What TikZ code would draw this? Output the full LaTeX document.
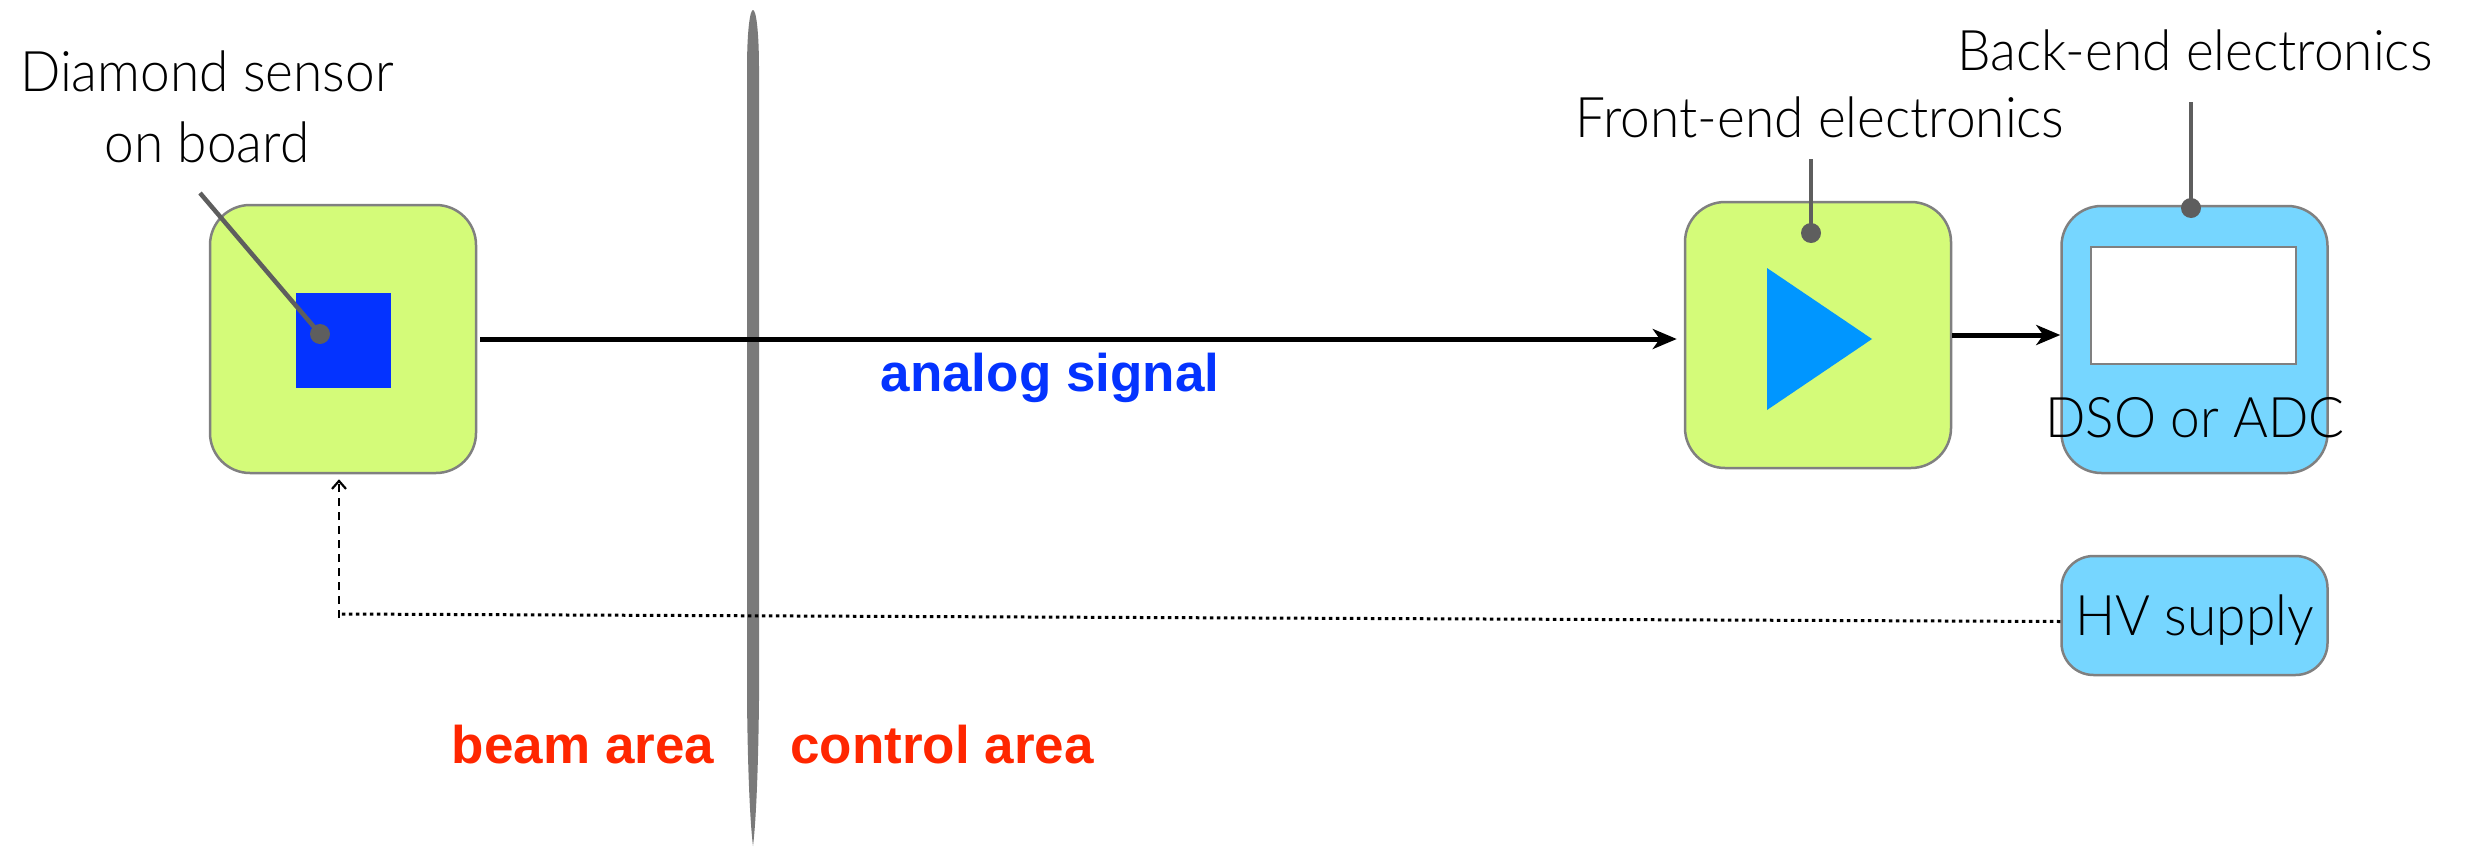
\documentclass[tikz,border=0pt]{standalone}
\usepackage{fontspec}
\setmainfont{Liberation Sans}
\newfontfamily\lightfont{Lato Light}[FakeStretch=0.95]
\usetikzlibrary{arrows.meta}
\definecolor{boardgreen}{HTML}{D4FB79}
\definecolor{skyblue}{HTML}{76D6FF}
\definecolor{sensorblue}{HTML}{0433FF}
\definecolor{aqua}{HTML}{0096FF}
\definecolor{labelred}{HTML}{FF2600}
\definecolor{pointergray}{HTML}{5E5E5E}
\definecolor{bordergray}{HTML}{808080}
\definecolor{dividergray}{HTML}{7A7A7A}
\begin{document}
\begin{tikzpicture}[x=1pt,y=-1pt,
  box/.style={draw=bordergray, line width=2.5pt, rounded corners=40pt, minimum width=266pt, minimum height=268pt, inner sep=0pt},
  lbl/.style={font=\lightfont\fontsize{56}{71}\selectfont, align=center, inner sep=0pt},
  area/.style={font=\bfseries\fontsize{53}{64}\selectfont, text=labelred, inner sep=0pt},
  pointer/.style={draw=pointergray, line width=4.5pt},
  dot/.style={circle, fill=pointergray, minimum size=20pt, inner sep=0pt},
  signal/.style={line width=5pt, -{Stealth[length=24pt,width=20pt,inset=7pt]}},
  hvlink/.style={line width=3pt, dash pattern=on 3.5pt off 3.5pt},
  hvarrow/.style={line width=2.2pt, dash pattern=on 8pt off 6pt, -{Straight Barb[length=8pt,width=14pt]}}
]
\useasboundingbox (0,0) rectangle (2471,846);

% divider between beam area and control area
\fill[dividergray] (747,70) .. controls (747,-10) and (759,-10) .. (759,70)
  -- (759,700) .. controls (758,790) and (755,830) .. (753,846)
  .. controls (751,830) and (748,790) .. (747,700) -- cycle;

% boxes
\node[box, fill=boardgreen] (board) at (343,339) {};
\node[fill=sensorblue, minimum width=95pt, minimum height=95pt, inner sep=0pt] (sensor) at (343.5,340.5) {};
\node[box, fill=boardgreen, minimum height=266pt] (fe) at (1818,335) {};
\fill[aqua] (1767,268) -- (1767,410) -- (1872,339) -- cycle;
\node[box, fill=skyblue, minimum height=267pt] (be) at (2194.5,339.5) {};
\node[draw=bordergray, fill=white, line width=2.5pt, minimum width=205pt, minimum height=117pt, inner sep=0pt] (screen) at (2193.5,305.5) {};
\node[lbl] (dso) at (2195,418) {DSO or ADC};
\node[box, fill=skyblue, minimum height=119pt, rounded corners=32pt, font=\lightfont\fontsize{56}{71}\selectfont, text height=40pt, text depth=0pt] (hv) at (2194.5,615.5) {HV supply};

% pointers and labels
\node[lbl] (slabel) at (207,107) {Diamond sensor\\on board};
\coordinate (stail) at (200,193);
\node[dot] (sdot) at (320,334) {};
\draw[pointer] (stail) -- (sdot.center);

\node[lbl] (flabel) at (1820,117) {Front-end electronics};
\coordinate (ftail) at (1811,159);
\node[dot] (fdot) at (1811,233) {};
\draw[pointer] (ftail) -- (fdot.center);

\node[lbl] (blabel) at (2195,50) {Back-end electronics};
\coordinate (btail) at (2191,102);
\node[dot] (bdot) at (2191,208) {};
\draw[pointer] (btail) -- (bdot.center);

% signal path
\draw[signal, shorten <=3pt, shorten >=7pt] (board.east) -- (board.east -| fe.west);
\draw[signal] (fe.east) -- (fe.east -| be.west);
\node[font=\bfseries\fontsize{53}{64}\selectfont, text=sensorblue, anchor=base, inner sep=0pt] (analog) at (1050,391) {analog signal};

% HV supply link
\coordinate (corner) at (339,614);
\coordinate (hvin) at ([yshift=-6pt]hv.west);
\draw[hvlink] (hvin) -- (corner);
\draw[hvarrow, shorten >=5pt] ([yshift=-4pt]corner) -- (board.south -| corner);

% area labels
\node[area] (beam) at (583,745) {beam area};
\node[area] (control) at (942,745) {control area};
\end{tikzpicture}
\end{document}
